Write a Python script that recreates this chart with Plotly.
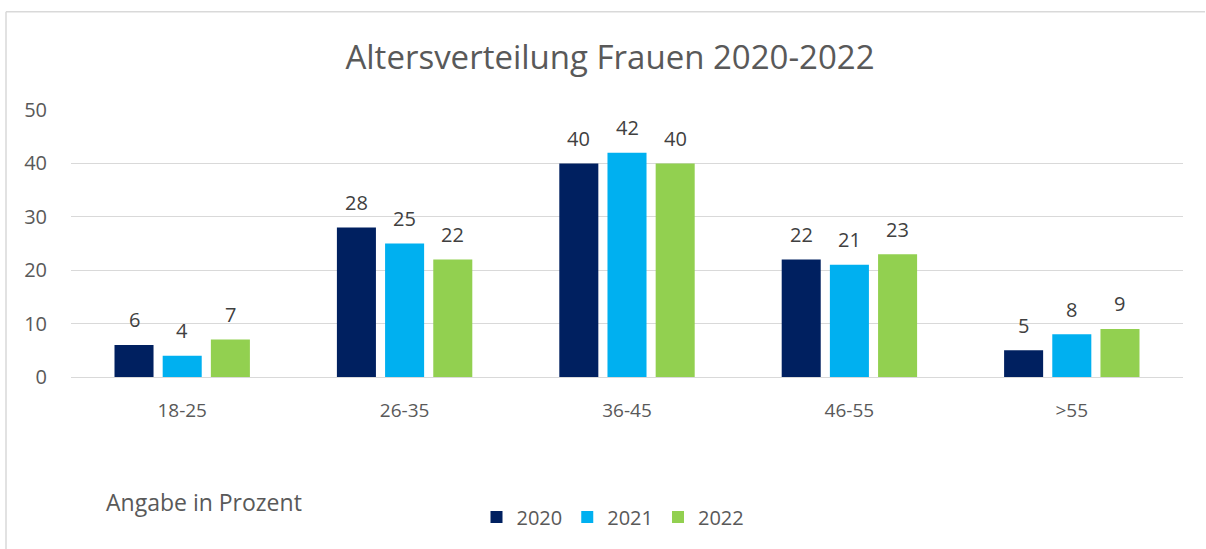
import plotly.graph_objects as go

categories = ["18-25", "26-35", "36-45", "46-55", ">55"]
years = ["2020", "2021", "2022"]
values_2020 = [6, 28, 40, 22, 5]
values_2021 = [4, 25, 42, 21, 8]
values_2022 = [7, 22, 40, 23, 9]
colors = ["#002060", "#00B0F0", "#92D050"]
y_ticks = [0, 10, 20, 30, 40, 50]

FONT = "Open Sans"
GREY = "#595959"

# layout geometry
L, R, T, B = 71, 23, 110, 170
W, H = 1206, 549
PW = W - L - R
PH = H - T - B
BARGAP, GROUPGAP = 0.35, 0.19
slot_px = PW / len(categories) * (1 - BARGAP) / len(years)

fig = go.Figure()
annotations = []
series = [values_2020, values_2021, values_2022]
for i, (name, vals, col) in enumerate(zip(years, series, colors)):
    fig.add_trace(go.Bar(
        x=categories, y=vals, name=name,
        marker=dict(color=col, line=dict(width=0)),
        cliponaxis=False,
    ))
    for c, v in zip(categories, vals):
        annotations.append(dict(
            x=c, y=v, xref="x", yref="y", text=str(v), showarrow=False,
            xshift=(i - 1) * slot_px, yshift=25, yanchor="middle",
            font=dict(family=FONT, size=20, color="#404040"),
        ))

annotations.append(dict(text="Angabe in Prozent", xref="paper", yref="paper",
                        x=(104 - L) / PW, y=(H - B - 505) / PH, xanchor="left", yanchor="middle",
                        showarrow=False, font=dict(family=FONT, size=23, color=GREY)))

fig.update_layout(
    width=W, height=H,
    margin=dict(l=L, r=R, t=T, b=B),
    paper_bgcolor="white", plot_bgcolor="white",
    barmode="group", bargap=BARGAP, bargroupgap=GROUPGAP,
    title=dict(text="Altersverteilung Frauen 2020-2022", xref="paper", x=(610 - L) / PW, xanchor="center",
               y=1 - 57 / H, yanchor="middle",
               font=dict(family=FONT, size=33, color=GREY)),
    font=dict(family=FONT, color=GREY),
    showlegend=True,
    legend=dict(orientation="h", x=(613 - L) / PW, xanchor="center", y=(H - B - 520) / PH, yanchor="middle",
                font=dict(family=FONT, size=20, color=GREY), traceorder="normal",
                itemwidth=30),
    xaxis=dict(showgrid=False, showline=False, ticks="", tickfont=dict(family=FONT, size=19, color=GREY),
               ticklabelstandoff=20),
    yaxis=dict(range=[0, 50], tickvals=y_ticks, showgrid=True, gridcolor="#d9d9d9", gridwidth=1.3,
               zeroline=True, zerolinecolor="#d9d9d9", zerolinewidth=1.3, showline=False,
               tickfont=dict(family=FONT, size=20, color=GREY), ticklabelstandoff=23),
    annotations=annotations,
    shapes=[
        dict(type="line", xref="paper", yref="paper", x0=(6 - L) / PW, x1=(1205 - L) / PW,
             y0=1 + (T - 11) / PH, y1=1 + (T - 11) / PH, line=dict(color="#d9d9d9", width=1.5)),
        dict(type="line", xref="paper", yref="paper", x0=(6 - L) / PW, x1=(6 - L) / PW,
             y0=1 + (T - 11) / PH, y1=(H - B - 560) / PH, line=dict(color="#d9d9d9", width=1.5)),
    ],
)

fig.write_html("out.html", config={"displayModeBar": False},
               post_script="document.body.style.margin='0';")
